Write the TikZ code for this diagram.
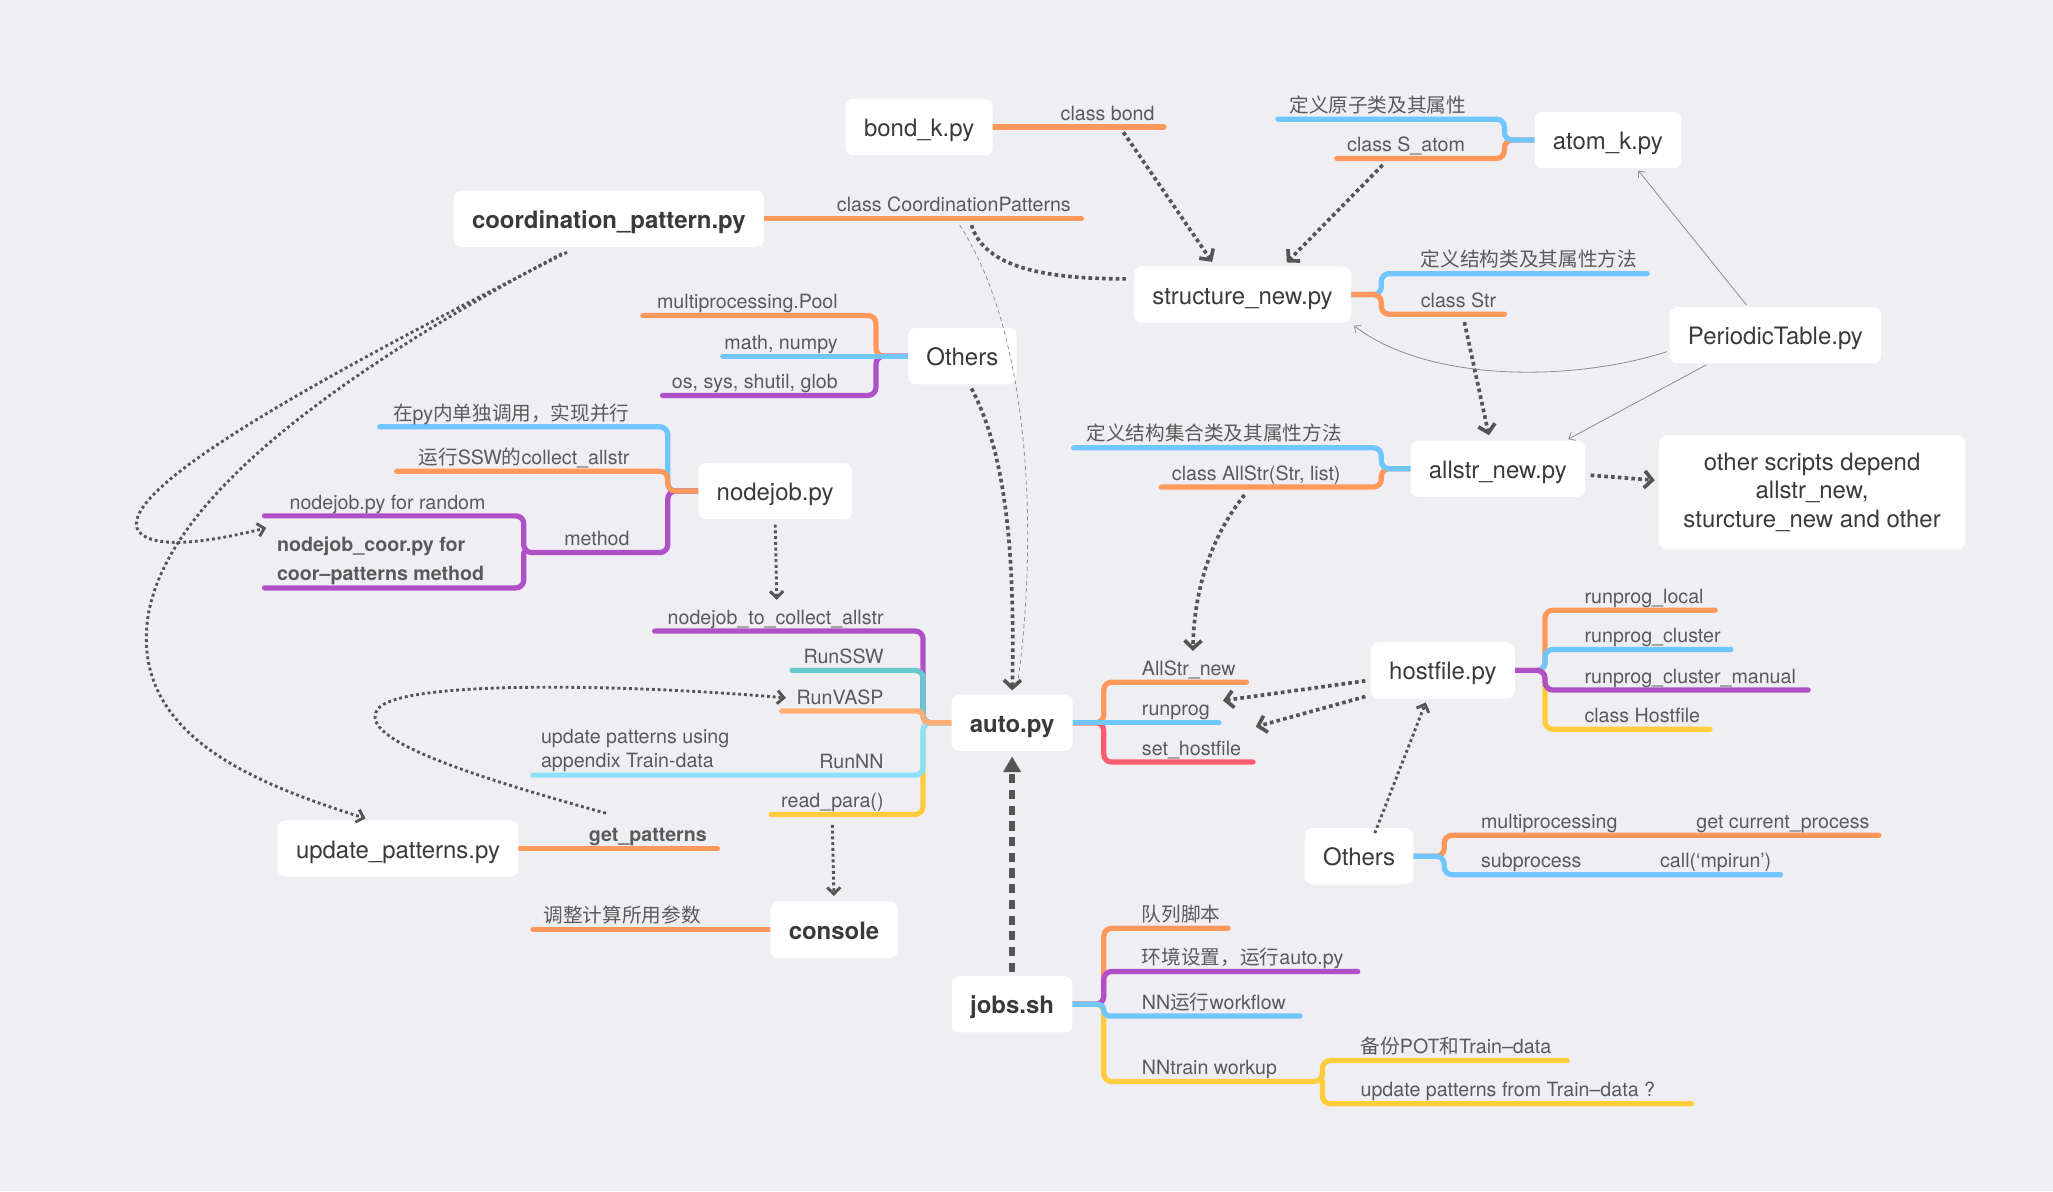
\documentclass[tikz,border=0pt]{standalone}
\usepackage{fontspec}
\setmainfont{TeX Gyre Heros}
\newfontfamily\cjk{Noto Sans CJK SC}
\usetikzlibrary{arrows.meta}
\definecolor{bgc}{RGB}{239,238,243}
\definecolor{nodec}{RGB}{58,58,58}
\definecolor{lblc}{RGB}{90,90,90}
\definecolor{arrc}{RGB}{85,85,85}
\definecolor{thinc}{RGB}{140,140,140}
\definecolor{corange}{RGB}{255,152,90}
\definecolor{cblue}{RGB}{112,198,255}
\definecolor{cpurple}{RGB}{176,80,200}
\definecolor{cteal}{RGB}{100,200,205}
\definecolor{cpeach}{RGB}{255,175,115}
\definecolor{ccyan}{RGB}{140,225,255}
\definecolor{cyellow}{RGB}{255,204,60}
\definecolor{cred}{RGB}{255,92,110}
\pgfdeclarelayer{back}
\pgfdeclarelayer{lines}
\pgfsetlayers{back,lines,main}
\begin{document}
\begin{tikzpicture}[x=1pt,y=-1pt,
  boxbase/.style={fill=white, rounded corners=6pt, minimum height=43pt, inner xsep=14pt, text=nodec, font=\fontsize{18.3}{22}\selectfont},
  box/.style={boxbase, text height=17pt, text depth=2.4pt},
  boldbox/.style={box, font=\fontsize{18.3}{22}\selectfont\bfseries},
  lbl/.style={font=\fontsize{15}{19}\selectfont, text=lblc, inner xsep=0pt, inner ysep=1.5pt, text height=11pt, text depth=3.5pt},
  lblb/.style={lbl, font=\fontsize{15}{19}\selectfont\bfseries},
  lbltwo/.style={text=lblc, inner sep=0pt, align=left},
  br/.style={line width=4pt, rounded corners=6pt, line cap=round},
  brs/.style={br, rounded corners=4pt},
  thickdot/.style={draw=arrc, line width=2.8pt, dash pattern=on 2.8pt off 2.4pt},
  meddot/.style={draw=arrc, line width=2.2pt, dash pattern=on 2.2pt off 2.2pt},
  thinline/.style={draw=thinc, line width=0.6pt},
  chev/.style={-{Straight Barb[length=6pt,width=13pt]}},
  smallchev/.style={-{Straight Barb[length=5pt,width=10pt]}},
  thinchev/.style={-{Straight Barb[length=4pt,width=7pt]}},
  tri/.style={-{Triangle[length=12pt,width=13pt]}}
]
\begin{pgfonlayer}{back}
\fill[bgc] (0,0) rectangle (1568,910);
\end{pgfonlayer}
\useasboundingbox (0,0) rectangle (1568,910);

% ---------- main nodes ----------
\node[box] (bond) at (702,97) {bond\_k.py};
\node[box] (atom) at (1228,107) {atom\_k.py};
\node[boldbox] (coord) at (465,167) {coordination\_pattern.py};
\node[box] (struct) at (949,225) {structure\_new.py};
\node[box] (ptable) at (1356,256) {PeriodicTable.py};
\node[box] (oth1) at (735,272) {Others};
\node[box] (allstr) at (1144,358) {allstr\_new.py};
\node[boxbase, align=center, minimum width=234pt, minimum height=87pt] (oscr) at (1384,376) {other scripts depend\\allstr\_new,\\sturcture\_new and other};
\node[box] (nodejob) at (592,375) {nodejob.py};
\node[boldbox] (auto) at (773,552) {auto.py};
\node[box] (host) at (1102,512) {hostfile.py};
\node[box] (oth2) at (1038,654) {Others};
\node[box] (upd) at (304,648) {update\_patterns.py};
\node[boldbox] (console) at (637,710) {console};
\node[boldbox] (jobs) at (773,767) {jobs.sh};

% ---------- labels ----------
\node[lbl, anchor=south east] (lbond) at (882,97) {class bond};
\node[lbl, anchor=south east] (lcp) at (818,167) {class CoordinationPatterns};
\node[lbl, anchor=south east] (la1) at (1120,91) {\cjk 定义原子类及其属性};
\node[lbl, anchor=south east] (la2) at (1119,121) {class S\_atom};
\node[lbl, anchor=south west] (ls1) at (1085,209) {\cjk 定义结构类及其属性方法};
\node[lbl, anchor=south west] (ls2) at (1085,240) {class Str};
\node[lbl, anchor=south east] (lo1) at (640,241) {multiprocessing.Pool};
\node[lbl, anchor=south east] (lo2) at (640,272) {math, numpy};
\node[lbl, anchor=south east] (lo3) at (640,302) {os, sys, shutil, glob};
\node[lbl, anchor=south east] (ln1) at (481,326) {{\cjk 在}py{\cjk 内单独调用，实现并行}};
\node[lbl, anchor=south east] (ln2) at (481,360) {{\cjk 运行}SSW{\cjk 的}collect\_allstr};
\node[lbl, anchor=south east] (ln3) at (481,422) {method};
\node[lbl, anchor=south east] (ln4) at (371,394) {nodejob.py for random};
\node[lbltwo, anchor=south east, font=\fontsize{15}{22}\selectfont\bfseries] (ln5) at (370,447) {nodejob\_coor.py for\\coor–patterns method};
\node[lbl, anchor=south east] (lal1) at (1025,342) {\cjk 定义结构集合类及其属性方法};
\node[lbl, anchor=south east] (lal2) at (1024,372) {class AllStr(Str, list)};
\node[lbl, anchor=south west] (lr1) at (872,521) {AllStr\_new};
\node[lbl, anchor=south west] (lr2) at (872,552) {runprog};
\node[lbl, anchor=south west] (lr3) at (872,582) {set\_hostfile};
\node[lbl, anchor=south east] (lnc) at (675,482) {nodejob\_to\_collect\_allstr};
\node[lbl, anchor=south east] (lrs) at (675,512) {RunSSW};
\node[lbl, anchor=south east] (lrv) at (675,543) {RunVASP};
\node[lbl, anchor=south east] (lrn) at (675,592) {RunNN};
\node[lbltwo, anchor=south west, font=\fontsize{15}{19}\selectfont] (lup) at (413,590) {update patterns using\\appendix Train-data};
\node[lbl, anchor=south east] (lrp) at (675,622) {read\_para()};
\node[lbl, anchor=south west] (lh1) at (1210,466) {runprog\_local};
\node[lbl, anchor=south west] (lh2) at (1210,496) {runprog\_cluster};
\node[lbl, anchor=south west] (lh3) at (1210,527) {runprog\_cluster\_manual};
\node[lbl, anchor=south west] (lh4) at (1210,557) {class Hostfile};
\node[lblb, anchor=south east] (lgp) at (540,648) {get\_patterns};
\node[lbl, anchor=south west] (lcon) at (415,710) {\cjk 调整计算所用参数};
\node[lbl, anchor=south west] (lj1) at (872,709) {\cjk 队列脚本};
\node[lbl, anchor=south west] (lj2) at (872,742) {{\cjk 环境设置，运行}auto.py};
\node[lbl, anchor=south west] (lj3) at (872,776) {NN{\cjk 运行}workflow};
\node[lbl, anchor=south west] (lj4) at (872,826) {NNtrain workup};
\node[lbl, anchor=south west] (lj5) at (1039,810) {{\cjk 备份}POT{\cjk 和}Train–data};
\node[lbl, anchor=south west] (lj6) at (1039,843) {update patterns from Train–data ?};
\node[lbl, anchor=south west] (lq1) at (1131,638) {multiprocessing};
\node[lbl, anchor=south east] (lq2) at (1428,638) {get current\_process};
\node[lbl, anchor=south west] (lq3) at (1131,668) {subprocess};
\node[lbl, anchor=south east] (lq4) at (1353,668) {call(‘mpirun’)};

% ---------- branch lines ----------
\begin{pgfonlayer}{lines}
\draw[br, corange] (bond.east) -- (889,97);
\draw[br, corange] (coord.east) -- (826,167);
\draw[br, corange] (atom.west) -- (1149,107) |- (1021,121);
\draw[br, cblue] (atom.west) -- (1149,107) |- (976,91);
\draw[br, cblue] (struct.east) -- (1055,225) |- (1258,209);
\draw[br, corange] (struct.east) -- (1055,225) |- (1149,240);
\draw[br, corange] (oth1.west) -- (669,272) |- (491,241);
\draw[br, cpurple] (oth1.west) -- (669,272) |- (506,302);
\draw[br, cblue] (oth1.west) -- (552,272);
\draw[br, cblue] (nodejob.west) -- (510,375) |- (290,326);
\draw[br, cpurple] (nodejob.west) -- (510,375) |- (400,422) |- (202,394);
\draw[br, cpurple] (400,422) |- (202,449);
\draw[br, corange] (nodejob.west) -- (510,375) |- (303,360);
\draw[br, corange] (allstr.west) -- (1055,358) |- (887,372);
\draw[br, cblue] (allstr.west) -- (1055,358) |- (820,342);
\draw[br, corange] (auto.east) -- (843,552) |- (952,521);
\draw[br, cred] (auto.east) -- (843,552) |- (957,582);
\draw[br, cblue] (auto.east) -- (931,552);
\draw[br, cpurple] (auto.west) -- (705,552) |- (500,482);
\draw[br, cteal] (auto.west) -- (705,552) |- (605,512);
\draw[br, cyellow] (auto.west) -- (705,552) |- (589,622);
\draw[br, ccyan] (auto.west) -- (705,552) |- (407,592);
\draw[brs, cpeach] (auto.west) -- (705,552) |- (597,543);
\draw[br, corange] (host.east) -- (1180,512) |- (1310,466);
\draw[br, cblue] (host.east) -- (1180,512) |- (1322,496);
\draw[br, cyellow] (host.east) -- (1180,512) |- (1306,557);
\draw[br, cpurple] (host.east) -- (1180,512) |- (1381,527);
\draw[br, corange] (upd.east) -- (548,648);
\draw[br, corange] (console.west) -- (407,710);
\draw[br, corange] (jobs.east) -- (843,767) |- (938,709);
\draw[br, cyellow] (jobs.east) -- (843,767) |- (1010,826) |- (1197,810);
\draw[br, cyellow] (1010,826) |- (1292,843);
\draw[br, cpurple] (jobs.east) -- (843,767) |- (1037,742);
\draw[brs, cblue] (jobs.east) -- (843,767) |- (993,776);
\draw[br, corange] (oth2.east) -- (1103,654) |- (1435,638);
\draw[br, cblue] (oth2.east) -- (1103,654) |- (1360,668);
\end{pgfonlayer}

% ---------- connectors ----------
\coordinate (cbS) at (858,101);
\coordinate (caS) at (1056,126);
\coordinate (ccpA) at (742,172);
\coordinate (ccpB) at (733,172);
\draw[thickdot, chev, shorten >=4pt] (cbS) -- ([xshift=-21pt]struct.north);
\draw[thickdot, chev, shorten >=4pt] (caS) -- ([xshift=31pt]struct.north);
\draw[thickdot, shorten >=6pt] (ccpA) .. controls (752,205) and (800,213) .. ([yshift=12pt]struct.west);
\draw[thinline, dash pattern=on 3pt off 2.5pt, shorten >=6pt] (ccpB) .. controls (790,260) and (792,420) .. ([xshift=3pt]auto.north);
\draw[thickdot, chev, shorten >=3pt] ([xshift=7pt,yshift=-3pt]oth1.south) .. controls (770,350) and (775,430) .. (auto.north);
\draw[meddot, smallchev] ([xshift=-32pt,yshift=-4pt]coord.south) .. controls (250,285) and (85,375) .. (106,406) .. controls (118,420) and (160,414) .. ([xshift=-8pt,yshift=7pt]ln5.north west);
\draw[meddot, smallchev, shorten >=4pt] ([xshift=-36pt,yshift=-5pt]coord.south) .. controls (230,300) and (118,395) .. (112,480) .. controls (106,565) and (200,600) .. ([xshift=-21pt]upd.north);
\draw[meddot, smallchev, shorten <=4pt, shorten >=6pt] (nodejob.south) -- ([xshift=1pt]lnc.north);
\draw[meddot, smallchev] ([xshift=-32pt,yshift=9pt]lgp.north) .. controls (350,590) and (268,562) .. (290,540) .. controls (315,518) and (500,524) .. ([xshift=-8pt,yshift=1pt]lrv.west);
\draw[meddot, smallchev, shorten >=4pt] ([yshift=-8pt]lrp.south) -- (console.north);
\draw[thickdot, chev, shorten >=6pt] ([xshift=-9pt,yshift=-6pt]lal2.south) .. controls (925,410) and (912,450) .. ([xshift=3pt]lr1.north);
\draw[thickdot, chev] ([xshift=-4pt,yshift=-8pt]host.west) -- ([xshift=10pt,yshift=8pt]lr2.east);
\draw[thickdot, chev] ([xshift=-4pt,yshift=-20pt]host.west) -- ([xshift=35pt,yshift=-12pt]lr2.east);
\draw[meddot, smallchev, shorten >=3pt] ([xshift=12pt,yshift=-4pt]oth2.north) -- ([xshift=-12pt]host.south);
\draw[draw=arrc, line width=4pt, dash pattern=on 7pt off 5pt, tri, shorten <=3pt, shorten >=4pt] (jobs.north) -- (auto.south);
\draw[thickdot, chev, shorten >=3pt] ([xshift=4pt,yshift=-5pt]allstr.east) -- ([yshift=9pt]oscr.west);
\draw[thickdot, chev, shorten >=4pt] ([xshift=4.5pt,yshift=-6pt]ls2.south) -- ([xshift=-6pt]allstr.north);
\draw[thinline, thinchev, shorten <=2pt, shorten >=2pt] ([xshift=-21pt]ptable.north) -- ([xshift=22pt]atom.south);
\draw[thinline, thinchev, shorten <=2pt] ([yshift=-12pt]ptable.west) .. controls (1200,292) and (1090,292) .. ([xshift=2pt,yshift=-2pt]struct.south east);
\draw[thinline, thinchev, shorten <=2pt, shorten >=2pt] ([xshift=-51pt]ptable.south) -- ([xshift=52pt]allstr.north);
\end{tikzpicture}
\end{document}
